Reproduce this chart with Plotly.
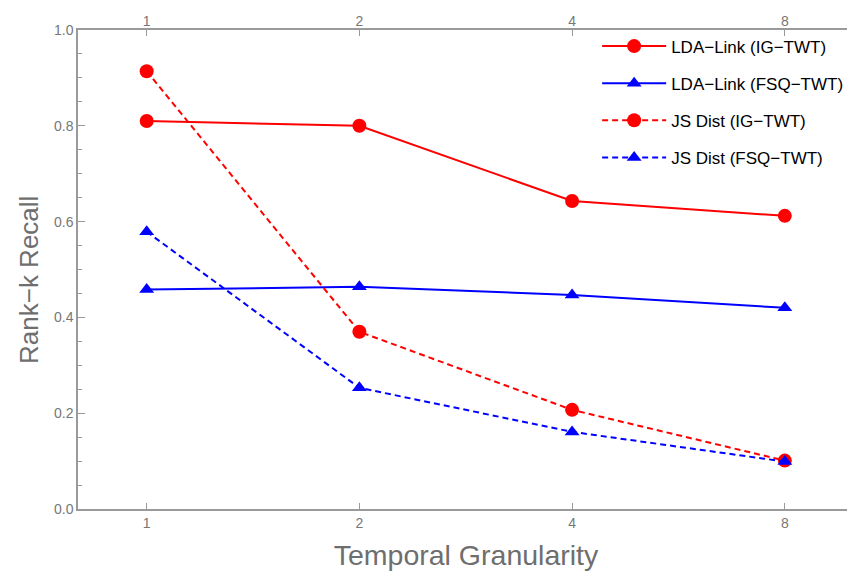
import plotly.graph_objects as go

granularity = [1, 2, 4, 8]
lda_ig = [0.810, 0.800, 0.643, 0.612]
lda_fsq = [0.458, 0.464, 0.447, 0.420]
js_ig = [0.914, 0.370, 0.207, 0.101]
js_fsq = [0.579, 0.253, 0.161, 0.099]
x_ticks = [1, 2, 4, 8]
x_ticktext = ["1", "2", "4", "8"]
y_ticks = [0.0, 0.2, 0.4, 0.6, 0.8, 1.0]

series = [
    ("LDA\u2212Link (IG\u2212TWT)", lda_ig, "red", "solid", "circle", 14),
    ("LDA\u2212Link (FSQ\u2212TWT)", lda_fsq, "blue", "solid", "triangle-up", 13),
    ("JS Dist (IG\u2212TWT)", js_ig, "red", "6px,4px", "circle", 14),
    ("JS Dist (FSQ\u2212TWT)", js_fsq, "blue", "6px,4px", "triangle-up", 13),
]

fig = go.Figure()
for i, (name, vals, col, dash, sym, sz) in enumerate(series):
    fig.add_trace(go.Scatter(
        x=granularity, y=vals, name=name, mode="lines+markers",
        line=dict(color=col, width=2, dash=dash),
        marker=dict(color=col, symbol=sym, size=sz, line=dict(width=0)),
        legendgroup=f"g{i}",
    ))

# invisible trace for top axis
fig.add_trace(go.Scatter(x=granularity, y=lda_ig, xaxis="x2", mode="markers",
                         marker=dict(opacity=0), showlegend=False, hoverinfo="skip"))

axcol = "#9a9a9a"
titlecol = "#6e6e6e"
tickfont = dict(family="Liberation Sans, Arial, sans-serif", size=14, color="#777777")
xrange = [-0.0972, 1.001]

fig.update_layout(
    width=847, height=568,
    margin=dict(l=70, r=1, t=22, b=67, autoexpand=False),
    paper_bgcolor="white", plot_bgcolor="white",
    font=dict(family="Liberation Sans, Arial, sans-serif"),
    showlegend=True,
    legend=dict(x=0.669, y=1.003, xanchor="left", yanchor="top",
                font=dict(size=17, color="black"), bgcolor="rgba(0,0,0,0)",
                tracegroupgap=12, itemwidth=64),
    xaxis=dict(type="log", range=xrange, tickvals=x_ticks, ticktext=x_ticktext,
               ticks="inside", ticklen=6, tickcolor=axcol, tickwidth=1,
               showline=True, linecolor=axcol, linewidth=1.5, mirror=True,
               showgrid=False, zeroline=False, tickfont=tickfont, automargin=False,
               title=dict(text="Temporal Granularity",
                          font=dict(size=28.5, color=titlecol), standoff=16)),
    xaxis2=dict(type="log", range=xrange, tickvals=x_ticks, ticktext=x_ticktext,
                overlaying="x", side="top", anchor="y", automargin=False,
                ticks="inside", ticklen=6, tickcolor=axcol, tickwidth=1,
                showline=False, showgrid=False, zeroline=False, tickfont=tickfont),
    yaxis=dict(range=[0, 1.0], tickvals=y_ticks, tickformat=".1f",
               ticks="inside", ticklen=7, tickcolor=axcol, tickwidth=1,
               minor=dict(dtick=0.05, ticks="inside", ticklen=4, tickcolor=axcol, showgrid=False),
               showline=True, linecolor=axcol, linewidth=1.5, mirror="ticks",
               showgrid=False, zeroline=False, tickfont=tickfont, automargin=False),
    annotations=[dict(text="Rank\u2212k Recall", textangle=-90, xref="paper", yref="paper",
                      x=-0.0638, y=0.5, xanchor="center", yanchor="middle", yshift=-10,
                      showarrow=False, font=dict(size=26, color=titlecol))],
)

fig.write_html("out.html")
